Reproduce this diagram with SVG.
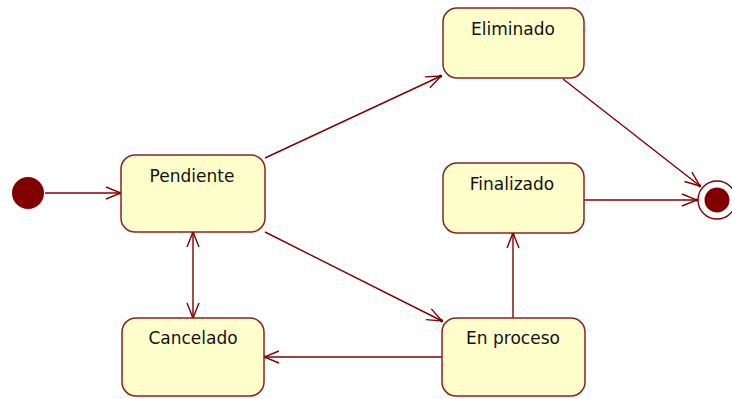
<svg xmlns="http://www.w3.org/2000/svg" width="732" height="399" viewBox="0 0 732 399">
<style>
.state{fill:#ffffcc;stroke:#8b2323;stroke-width:1.5}
.lbl{font-family:"DejaVu Sans",Verdana,sans-serif;font-size:17px;fill:#111;text-anchor:middle}
.conn{stroke:#800000;stroke-width:1.4;fill:none}
</style>
<defs>
<marker id="arr" viewBox="0 0 17 14" refX="16" refY="7" markerWidth="17" markerHeight="14" markerUnits="userSpaceOnUse" orient="auto-start-reverse">
<path d="M1,1 L16,7 L1,13" fill="none" stroke="#800000" stroke-width="1.4"/>
<circle cx="15.5" cy="7" r="1.6" fill="#800000"/>
</marker>
</defs>
<rect width="732" height="399" fill="#ffffff"/>
<g id="connectors">
<line class="conn" x1="45" y1="193" x2="121" y2="193" marker-end="url(#arr)"/>
<line class="conn" x1="265" y1="158" x2="441" y2="76" marker-end="url(#arr)"/>
<line class="conn" x1="265" y1="232" x2="442" y2="321" marker-end="url(#arr)"/>
<line class="conn" x1="193" y1="232" x2="193" y2="318" marker-start="url(#arr)" marker-end="url(#arr)"/>
<line class="conn" x1="442" y1="357" x2="264" y2="357" marker-end="url(#arr)"/>
<line class="conn" x1="513" y1="318" x2="513" y2="233" marker-end="url(#arr)"/>
<line class="conn" x1="563" y1="79" x2="700" y2="186" marker-end="url(#arr)"/>
<line class="conn" x1="584" y1="200" x2="697" y2="200" marker-end="url(#arr)"/>
</g>
<g id="initial">
<circle cx="28" cy="193" r="16" fill="#800000"/>
</g>
<g id="final">
<circle cx="717" cy="200" r="19" fill="#ffffff" stroke="#800000" stroke-width="1.4"/>
<circle cx="717" cy="200" r="12.5" fill="#800000"/>
</g>
<g id="pendiente">
<rect class="state" x="121" y="155" width="144" height="77" rx="14" ry="14"/>
<text class="lbl" x="192" y="182">Pendiente</text>
</g>
<g id="eliminado">
<rect class="state" x="443" y="8" width="141" height="70" rx="14" ry="14"/>
<text class="lbl" x="513" y="35">Eliminado</text>
</g>
<g id="finalizado">
<rect class="state" x="443" y="163" width="141" height="70" rx="14" ry="14"/>
<text class="lbl" x="512" y="190">Finalizado</text>
</g>
<g id="cancelado">
<rect class="state" x="122" y="318" width="142" height="78" rx="14" ry="14"/>
<text class="lbl" x="193" y="344">Cancelado</text>
</g>
<g id="enproceso">
<rect class="state" x="442" y="318" width="143" height="78" rx="14" ry="14"/>
<text class="lbl" x="513" y="344">En proceso</text>
</g>
</svg>
